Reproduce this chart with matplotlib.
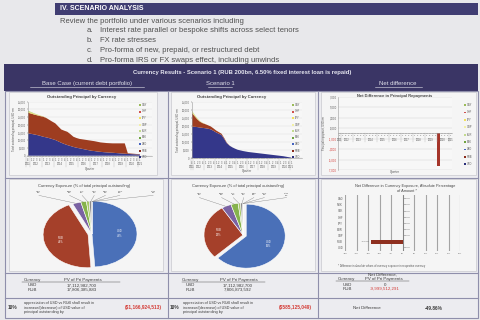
import matplotlib
matplotlib.use("Agg")
import matplotlib.pyplot as plt
from matplotlib.patches import Rectangle, Patch
from matplotlib.ticker import FuncFormatter
import numpy as np

plt.rcParams['font.family'] = ['Liberation Sans', 'DejaVu Sans']

# ---------------- data ----------------
quarters = ["Q4 2011",
            "Q1 2012", "Q2 2012", "Q3 2012", "Q4 2012",
            "Q1 2013", "Q2 2013", "Q3 2013", "Q4 2013",
            "Q1 2014", "Q2 2014", "Q3 2014", "Q4 2014",
            "Q1 2015", "Q2 2015", "Q3 2015", "Q4 2015",
            "Q1 2016", "Q2 2016", "Q3 2016", "Q4 2016",
            "Q1 2017", "Q2 2017", "Q3 2017", "Q4 2017",
            "Q1 2018", "Q2 2018", "Q3 2018", "Q4 2018",
            "Q1 2019", "Q2 2019", "Q3 2019", "Q4 2019",
            "Q1 2020", "Q2 2020", "Q3 2020", "Q4 2020",
            "Q1 2021"]

base_usd = [14500, 14200, 13800, 13400, 12900, 12300, 11900, 11400, 10800, 10200,
            9300, 8400, 7600, 6900, 6300, 5700, 5200, 4800, 4400, 4000,
            3600, 3200, 3000, 2700, 2500, 2300, 2150, 2000, 1900, 1750,
            1600, 1450, 1300, 1150, 1050, 950, 850, 800]
base_rub = [13400, 13100, 12900, 12800, 12800, 13000, 12600, 11900, 11300, 10800,
            9700, 8600, 8600, 8600, 7700, 6600, 6300, 6100, 6200, 6300,
            6400, 6500, 6400, 6300, 6100, 6100, 6050, 6100, 6100, 6250,
            6400, 6550, 6700, 400, 350, 300, 250, 200]
base_gbp = [800, 650, 500, 350, 250, 150, 80] + [0] * 31
base_eur = [500, 400, 300, 200, 120, 60] + [0] * 32

scen_usd = [19500, 19500, 19300, 19000, 18800, 18600, 18300, 17900, 17000, 16000,
            15200, 14400, 12000, 9300, 7800, 6800, 6000, 5300, 4900, 4500,
            4200, 3900, 3700, 3500, 3300, 3100, 2900, 2700, 2500, 2300,
            2100, 1900, 1700, 1500, 1300, 1000, 700, 400]
scen_rub = [8500, 6500, 4800, 3600, 2900, 2500, 2100, 1800, 1500, 1200,
            1000, 800, 600, 300, 100] + [0] * 23
scen_gbp = [900, 600, 400, 250, 150, 80] + [0] * 32
scen_eur = [400, 300, 200, 120, 60] + [0] * 33

net_diff = [0] * 33 + [-6300] + [0] * 4

legend_cur = ["CNY", "CHF", "JPY", "GBP", "EUR", "SEK", "CAD", "RUB", "USD"]

pie_cur = ["USD", "RUB", "GBP", "EUR", "JPY", "CHF", "SEK", "NOK", "CAD"]
base_share = [49, 44, 3, 2, 1, 1, 0, 0, 0]
scen_share = [63, 28, 4, 3, 1, 1, 0, 0, 0]

bar_cur = ["CAD", "NOK", "SEK", "CHF", "JPY", "EUR", "GBP", "RUB", "USD"]
bar_diff = [0, 0, 0, 0, 0, 0, 0, -16.3, 0]

tbl_cur = ["USD", "RUB"]
base_pv = ["17,112,982,700", "17,806,385,883"]
scen_pv = ["17,112,982,700", "7,806,873,592"]
net_pv = ["0", "-9,999,512,291"]
base_sens = "($1,166,924,513)"
scen_sens = "($585,125,049)"
net_sens = "-49.86%"

# ---------------- styling ----------------
C_USD, C_RUB, C_GBP, C_EUR = '#34378a', '#9e3d20', '#e8dc6c', '#b9d46c'
leg_colors = ['#9bbb59', '#d0504d', '#f0e060', '#f2f0a6', '#c3da8f',
              '#6fa33f', '#4463c0', '#8a2a1a', '#2a2e7a']
pie_colors = ['#4a70b8', '#a5402a', '#7a62a3', '#86b34c', '#a9c96a',
              '#8c8c8c', '#d9903f', '#6fa8c8', '#c7c7c7']
PURPLE = '#3a3565'
TXT = '#3c3c3c'
RED = '#d43a34'

fig = plt.figure(figsize=(4.8, 3.2), dpi=100)
fig.patch.set_facecolor('#e8e8eb')
bg = fig.add_axes([0, 0, 1, 1])
bg.set_xlim(0, 480)
bg.set_ylim(320, 0)
bg.axis('off')


def rect(x0, y0, x1, y1, fc, ec='none', lw=0.5, z=0):
    bg.add_patch(Rectangle((x0, y0), x1 - x0, y1 - y0, facecolor=fc,
                           edgecolor=ec, lw=lw, zorder=z))


def pax(x0, y0, x1, y1):
    return fig.add_axes([x0 / 480, 1 - y1 / 320, (x1 - x0) / 480, (y1 - y0) / 320])


# ---- top slide text
rect(55, 2.5, 478, 14.5, '#403d72')
bg.text(60, 8.7, "IV. SCENARIO ANALYSIS", color='white', fontsize=5,
        fontweight='bold', va='center')
bg.text(60, 21.5, "Review the portfolio under various scenarios including",
        fontsize=5.5, color='#505050', va='center')
items = ["Interest rate parallel or bespoke shifts across select tenors",
         "FX rate stresses",
         "Pro-forma of new, prepaid, or restructured debt",
         "Pro-forma IRS or FX swaps effect, including unwinds"]
for k, (lt, it) in enumerate(zip("abcd", items)):
    y = 31 + k * 9.7
    bg.text(87, y, lt + ".", fontsize=5.5, color='#505050', va='center')
    bg.text(100, y, it, fontsize=5.5, color='#505050', va='center')

# ---- table band
rect(4, 63.5, 478, 90.5, PURPLE)
bg.text(242, 72.5, "Currency Results - Scenario 1 (RUB 200bn, 6.50% fixed interest loan is repaid)",
        fontsize=4.2, fontweight='bold', color='#e6e6f0', ha='center', va='center')
for txt, cx, x0, x1 in [("Base Case (current debt portfolio)", 87, 30, 144),
                        ("Scenario 1", 220, 208, 232),
                        ("Net difference", 398, 375, 422)]:
    bg.text(cx, 83.5, txt, fontsize=4.3, color='#e0e0ea', ha='center', va='center')
    bg.plot([x0, x1], [86.6, 86.6], color='#e0e0ea', lw=0.4)

# ---- table cells
rect(5, 90.5, 478, 318, '#ececf0', ec='#8f8fab', lw=0.8)
for x in (168, 318):
    bg.plot([x, x], [90.5, 318], color='#8f8fab', lw=0.8)
for y in (177.5, 273, 297.5):
    bg.plot([5, 478], [y, y], color='#8f8fab', lw=0.8)
for (x0, y0, x1, y1) in [(9, 92, 157, 175), (171, 92, 315, 175), (321, 92, 476, 175),
                         (9, 179, 163, 271), (171, 179, 315, 271), (321, 179, 476, 271)]:
    rect(x0, y0, x1, y1, '#f5f5f5', ec='#c9c9cf', lw=0.5, z=1)

idx = np.arange(len(quarters))
years = [q.split()[1] for q in quarters]
qnums = [q.split()[0][1] for q in quarters]


def year_axis(ax, ypos):
    trans = ax.get_xaxis_transform()
    uniq = []
    for y in years:
        if y not in uniq:
            uniq.append(y)
    for y in uniq:
        ii = [i for i, yy in enumerate(years) if yy == y]
        ax.text(np.mean(ii), ypos, y, transform=trans, fontsize=1.9,
                ha='center', va='center', color='#555555', clip_on=False)
        ax.plot([ii[0] - 0.5, ii[0] - 0.5], [0, ypos - 0.06], transform=trans,
                color='#aaaaaa', lw=0.25, clip_on=False)


def legend(ax, anchor, spacing):
    handles = [Patch(facecolor=c, edgecolor='none') for c in leg_colors]
    ax.legend(handles, legend_cur, loc='upper right', bbox_to_anchor=anchor,
              bbox_transform=fig.transFigure, fontsize=1.8, frameon=False,
              handlelength=0.7, handleheight=0.7, labelspacing=spacing,
              borderaxespad=0, handletextpad=0.4, labelcolor='#555555')


def area_chart(box, usd, rub, gbp, eur, title, tcx, anchor):
    ax = pax(*box)
    ax.set_facecolor('#f7f7f7')
    ax.stackplot(idx, usd, rub, gbp, eur, colors=[C_USD, C_RUB, C_GBP, C_EUR], lw=0)
    ax.set_xlim(0, 41)
    ax.set_ylim(0, 35000)
    ax.set_yticks(range(0, 35001, 5000))
    ax.yaxis.set_major_formatter(FuncFormatter(lambda v, p: f"{v:,.0f}"))
    ax.set_xticks(idx)
    ax.set_xticklabels(qnums)
    ax.tick_params(labelsize=1.8, length=0.8, width=0.3, pad=0.8, colors='#555555')
    ax.grid(axis='y', color='#dddddd', lw=0.3)
    ax.set_axisbelow(True)
    for s in ('top', 'right'):
        ax.spines[s].set_visible(False)
    for s in ('left', 'bottom'):
        ax.spines[s].set_color('#999999')
        ax.spines[s].set_linewidth(0.4)
    year_axis(ax, -0.155)
    ax.set_xlabel("Quarter", fontsize=2.2, color='#555555', labelpad=3.5)
    ax.set_ylabel("Total outstanding principal, USD mn", fontsize=2, color='#555555', labelpad=1.5)
    fig.text(tcx / 480, 1 - 96.8 / 320, title, fontsize=3.1, fontweight='bold',
             color='#444444', ha='center', va='center')
    legend(ax, anchor, 1.0)
    return ax


area_chart((28, 101.7, 152, 155.7), base_usd, base_rub, base_gbp, base_eur,
           "Outstanding Principal by Currency", 82, (148 / 480, 1 - 102 / 320))
area_chart((192, 101.7, 302, 158.3), scen_usd, scen_rub, scen_gbp, scen_eur,
           "Outstanding Principal by Currency", 232, (301 / 480, 1 - 102 / 320))

# ---- net difference in principal repayments
ax = pax(338, 96.7, 452, 170)
ax.set_facecolor('#f7f7f7')
ax.bar(idx, net_diff, width=0.9, color='#a5352a')
ax.set_xlim(-0.5, 37.5)
ax.set_ylim(-7000, 7000)
yt = [-7000, -5000, -3000, -1000, 1000, 3000, 5000, 7000]
ax.set_yticks(yt)
ax.set_yticklabels([f"{v:,.0f}" for v in yt])
for lab, v in zip(ax.get_yticklabels(), yt):
    lab.set_color(RED if v < 0 else '#555555')
ax.grid(axis='y', color='#d5d5d5', lw=0.35)
ax.set_axisbelow(True)
ax.spines['bottom'].set_position(('data', 0))
for s in ('top', 'right'):
    ax.spines[s].set_visible(False)
for s in ('left', 'bottom'):
    ax.spines[s].set_color('#999999')
    ax.spines[s].set_linewidth(0.4)
ax.set_xticks(idx)
ax.set_xticklabels(qnums)
ax.tick_params(axis='x', labelsize=1.6, length=0.8, width=0.3, pad=0.6, colors='#555555')
ax.tick_params(axis='y', labelsize=2, length=0, pad=1)
uniq = []
for y in years:
    if y not in uniq:
        uniq.append(y)
for y in uniq:
    ii = [i for i, yy in enumerate(years) if yy == y]
    ax.text(np.mean(ii), -1250, y, fontsize=1.8, ha='center', va='center', color='#555555')
    ax.plot([ii[0] - 0.5, ii[0] - 0.5], [0, -1700], color='#aaaaaa', lw=0.25)
ax.set_ylabel("Principal repayment, USD mn", fontsize=1.9, color='#555555', labelpad=1.5)
fig.text(395 / 480, 1 - 95.5 / 320, "Net Difference in Principal Repayments", fontsize=2.9,
         fontweight='bold', color='#444444', ha='center', va='center')
fig.text(395 / 480, 1 - 171.5 / 320, "Quarter", fontsize=2.1, color='#555555',
         ha='center', va='center')
handles = [Patch(facecolor=c, edgecolor='none') for c in leg_colors]
ax.legend(handles, legend_cur, loc='upper right', bbox_to_anchor=(473 / 480, 1 - 102 / 320),
          bbox_transform=fig.transFigure, fontsize=1.8, frameon=False,
          handlelength=0.7, handleheight=0.7, labelspacing=1.35,
          borderaxespad=0, handletextpad=0.4, labelcolor='#555555')


# ---- pies
def pie_chart(cx, cy, rx, ry, shares, explode_i, label_x, title, tcx):
    lim = 1.3
    ax = pax(cx - lim * rx, cy - lim * ry, cx + lim * rx, cy + lim * ry)
    expl = [0.09 if i == explode_i else 0 for i in range(len(shares))]
    wedges, _ = ax.pie(shares, colors=pie_colors, startangle=90, counterclock=False,
                       explode=expl, wedgeprops=dict(edgecolor='white', linewidth=0.4))
    ax.set_aspect('auto')
    ax.set_xlim(-lim, lim)
    ax.set_ylim(-lim, lim)
    for i, w in enumerate(wedges):
        ang = np.deg2rad((w.theta1 + w.theta2) / 2)
        ox = expl[i] * np.cos(ang)
        oy = expl[i] * np.sin(ang)
        if i < 2:
            ax.text(0.62 * np.cos(ang) + ox, 0.62 * np.sin(ang) + oy,
                    f"{pie_cur[i]}\n{shares[i]}%", fontsize=1.9, color='white',
                    ha='center', va='center', linespacing=1.1)
        else:
            lx = label_x[i - 2]
            ax.text(lx, 1.27, f"{pie_cur[i]}\n{shares[i]}%", fontsize=1.7, color='#444444',
                    ha='center', va='center', linespacing=1.1, clip_on=False)
            ax.plot([lx, np.cos(ang) * 0.98], [1.17, np.sin(ang) * 0.98],
                    color='#777777', lw=0.25, clip_on=False)
    fig.text(tcx / 480, 1 - 185.5 / 320, title, fontsize=2.9, color='#444444',
             ha='center', va='center')


pie_chart(92, 234, 45, 33, base_share, 1, [-1.18, -0.5, -0.22, 0.05, 0.3, 0.62, 1.36],
          "Currency Exposure (% of total principal outstanding)", 84)
pie_chart(243, 235, 39, 32, scen_share, 0, [-1.12, -0.55, -0.25, 0.02, 0.28, 0.55, 1.12],
          "Currency Exposure (% of total principal outstanding)", 238)

# ---- horizontal bar: net difference in currency exposure
ax = pax(345, 195, 460, 251)
ax.set_facecolor('#f5f5f5')
pos = np.arange(len(bar_cur))
ax.barh(pos, bar_diff, height=0.7, color='#8e2f1f')
ax.set_xlim(-30, 30)
ax.set_ylim(len(bar_cur) - 0.5, -0.6)
xt = list(range(-30, 31, 6))
ax.set_xticks(xt)
ax.set_xticklabels([f"{v}%" for v in xt])
ax.set_yticks(pos)
ax.set_yticklabels(bar_cur)
ax.tick_params(axis='y', labelsize=1.9, length=0, pad=1.5, colors='#555555')
ax.tick_params(axis='x', labelsize=1.5, length=0, pad=1.5, colors='#555555')
ax.grid(axis='x', color='#a4a4a4', lw=0.8)
ax.set_axisbelow(True)
for s in ax.spines.values():
    s.set_visible(False)
ax.axvline(0, color='#777777', lw=0.5)
for p, v in zip(pos, bar_diff):
    if v == 0:
        ax.text(0.8, p, "0.00%", fontsize=1.7, color='#555555', ha='left', va='center')
    else:
        ax.text(v - 0.8, p, f"{v:.2f}%", fontsize=1.7, color='#555555', ha='right', va='center')
fig.text(405 / 480, 1 - 185.5 / 320, "Net Difference in Currency Exposure, Absolute Percentage",
         fontsize=2.8, color='#444444', ha='center', va='center')
fig.text(407 / 480, 1 - 190.7 / 320, "of Amount *", fontsize=2.8, color='#444444',
         ha='center', va='center')
fig.text(338 / 480, 1 - 265.7 / 320,
         "* Difference in absolute values of currency exposure in respective currency",
         fontsize=1.9, color='#555555', ha='left', va='center')

# ---- PV tables
for x0, xv, (xh0, xh1) in [(32, 82, (22, 120)), (190, 238, (182, 265))]:
    bg.text(x0, 279.5, "Currency", fontsize=3.2, color=TXT, ha='center', va='center')
    bg.text(xv + 1, 279.5, "PV of Pri Payments", fontsize=3.2, color=TXT, ha='center', va='center')
    bg.plot([xh0, xh1], [282, 282], color='#555555', lw=0.35)
for k, c in enumerate(tbl_cur):
    y = 285.5 + k * 4.4
    bg.text(32, y, c, fontsize=3.2, color=TXT, ha='center', va='center')
    bg.text(82, y, base_pv[k], fontsize=3.2, color=TXT, ha='center', va='center')
    bg.text(190, y, c, fontsize=3.2, color=TXT, ha='center', va='center')
    bg.text(238, y, scen_pv[k], fontsize=3.2, color=TXT, ha='center', va='center')
    bg.text(347, y - 1, c, fontsize=3.2, color=TXT, ha='center', va='center')
    bg.text(385, y - 1, net_pv[k], fontsize=3.2, color=(RED if k == 1 else TXT),
            ha='center', va='center')
bg.text(382, 274.5, "Net Difference,", fontsize=3.2, color=TXT, ha='center', va='center')
bg.text(346, 279, "Currency", fontsize=3.2, color=TXT, ha='center', va='center')
bg.text(384, 279, "PV of Pri Payments", fontsize=3.2, color=TXT, ha='center', va='center')
bg.plot([336, 409], [281.3, 281.3], color='#555555', lw=0.35)

# ---- sensitivity row
desc = "appreciation of USD vs RUB shall result in\nincrease/(decrease) of USD value of\nprincipal outstanding by"
bg.text(12, 307.7, "10%", fontsize=3.4, fontweight='bold', color=TXT, ha='center', va='center')
bg.text(24, 307.7, desc, fontsize=2.7, color=TXT, ha='left', va='center', linespacing=1.2)
bg.text(143, 308, base_sens, fontsize=3.4, fontweight='bold', color=RED, ha='center', va='center')
bg.text(174, 307.7, "10%", fontsize=3.4, fontweight='bold', color=TXT, ha='center', va='center')
bg.text(183, 307.7, desc, fontsize=2.7, color=TXT, ha='left', va='center', linespacing=1.2)
bg.text(295, 308, scen_sens, fontsize=3.4, fontweight='bold', color=RED, ha='center', va='center')
bg.text(367, 308, "Net Difference", fontsize=3.2, color=TXT, ha='center', va='center')
bg.text(434, 308, net_sens, fontsize=3.4, fontweight='bold', color=TXT, ha='center', va='center')

fig.savefig("out.png", dpi=100, facecolor=fig.get_facecolor())
